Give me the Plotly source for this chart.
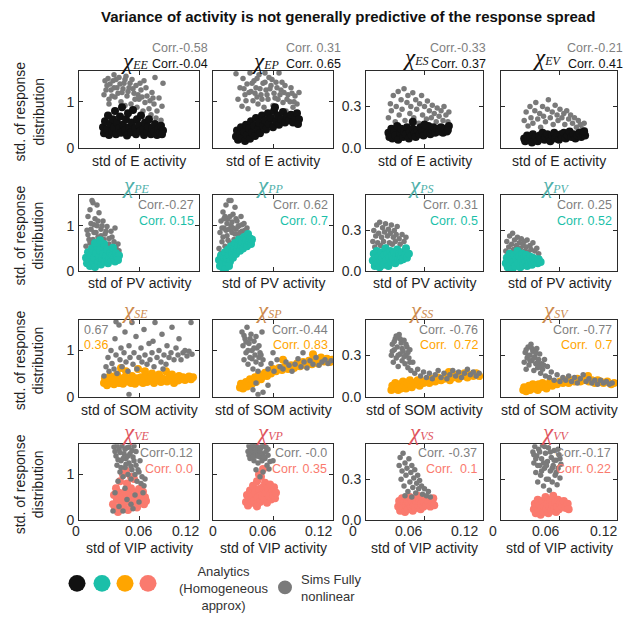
import plotly.graph_objects as go

# ---- data: (std of activity, std of response distribution) per panel ----
EE_SIM = [(0.025,1.15),(0.028,1.35),(0.030,1.05),(0.032,1.25),(0.034,1.45),(0.036,1.10),(0.038,1.30),(0.040,1.52),(0.042,1.00),(0.043,1.20),(0.045,1.40),(0.047,1.55),(0.048,1.12),(0.050,1.30),(0.052,0.95),(0.053,1.48),(0.055,1.18),(0.057,1.35),(0.058,0.88),(0.060,1.05),(0.062,1.25),(0.064,0.80),(0.065,1.45),(0.066,0.98),(0.068,1.12),(0.070,0.85),(0.072,0.72),(0.073,1.20),(0.075,0.95),(0.077,0.65),(0.078,0.80),(0.080,1.08),(0.082,0.60),(0.083,0.90),(0.084,1.40),(0.076,1.52),(0.030,0.95),(0.035,1.58),(0.026,1.45),(0.046,0.92),
          (0.027,1.25),(0.029,1.50),(0.031,1.38),(0.033,1.12),(0.035,1.30),(0.037,1.48),(0.039,1.18),(0.041,1.38),(0.044,1.28),(0.046,1.48),(0.049,1.22),(0.051,1.40),(0.054,1.28),(0.056,1.05),(0.059,1.15),(0.061,1.40),(0.063,1.10),(0.067,1.30),(0.071,1.02),(0.074,1.08)]
EE_ANA = [(0.024,0.45),(0.025,0.32),(0.026,0.58),(0.028,0.40),(0.029,0.70),(0.030,0.28),(0.031,0.52),(0.033,0.36),(0.034,0.62),(0.035,0.45),(0.036,0.80),(0.037,0.30),(0.038,0.55),(0.040,0.42),(0.041,0.68),(0.042,0.33),(0.043,0.88),(0.044,0.50),(0.046,0.38),(0.047,0.62),(0.048,0.27),(0.049,0.75),(0.050,0.45),(0.052,0.34),(0.053,0.55),(0.054,0.82),(0.056,0.42),(0.057,0.30),(0.058,0.62),(0.060,0.48),(0.061,0.36),(0.062,0.70),(0.064,0.40),(0.065,0.28),(0.066,0.55),(0.068,0.35),(0.069,0.46),(0.070,0.62),(0.072,0.30),(0.073,0.42),(0.075,0.35),(0.076,0.52),(0.078,0.28),(0.079,0.40),(0.081,0.33),(0.082,0.48),(0.084,0.38),(0.083,0.30)]

EP_SIM = [(0.023,1.60),(0.025,1.05),(0.027,1.30),(0.029,0.90),(0.030,1.50),(0.032,1.15),(0.034,1.38),(0.035,0.85),(0.037,1.62),(0.038,1.22),(0.040,1.02),(0.041,1.45),(0.043,1.30),(0.045,0.95),(0.046,1.58),(0.048,1.15),(0.050,1.40),(0.051,0.88),(0.053,1.25),(0.055,1.05),(0.056,1.52),(0.058,1.35),(0.060,0.92),(0.061,1.18),(0.063,1.42),(0.065,1.05),(0.066,1.62),(0.068,1.25),(0.070,0.98),(0.072,1.35),(0.073,0.80),(0.075,1.15),(0.077,1.00),(0.078,1.30),(0.080,0.88),(0.082,1.12),(0.084,0.95),(0.086,1.20),(0.052,1.62),(0.044,1.10),
          (0.031,1.28),(0.033,1.02),(0.036,1.20),(0.039,1.40),(0.042,1.18),(0.044,1.50),(0.047,1.28),(0.049,1.05),(0.052,1.42),(0.054,1.15),(0.057,1.28),(0.059,1.48),(0.062,1.08),(0.064,1.30),(0.067,1.15),(0.069,1.42),(0.071,1.20),(0.074,1.05),(0.079,1.18),(0.081,1.00)]
EP_ANA = [(0.023,0.25),(0.024,0.38),(0.025,0.18),(0.027,0.30),(0.028,0.45),(0.029,0.22),(0.031,0.35),(0.032,0.15),(0.033,0.50),(0.034,0.28),(0.036,0.42),(0.037,0.20),(0.038,0.58),(0.039,0.33),(0.041,0.48),(0.042,0.26),(0.043,0.65),(0.045,0.40),(0.046,0.55),(0.047,0.32),(0.049,0.70),(0.050,0.48),(0.052,0.60),(0.053,0.40),(0.055,0.75),(0.056,0.52),(0.058,0.65),(0.060,0.45),(0.061,0.80),(0.063,0.58),(0.065,0.70),(0.066,0.50),(0.068,0.62),(0.070,0.78),(0.072,0.55),(0.074,0.68),(0.076,0.60),(0.078,0.72),(0.080,0.55),(0.082,0.65),(0.084,0.75),(0.086,0.62),(0.085,0.52),(0.062,0.88)]

ES_SIM = [(0.023,0.22),(0.025,0.32),(0.026,0.27),(0.028,0.38),(0.030,0.19),(0.031,0.30),(0.033,0.41),(0.034,0.24),(0.036,0.35),(0.037,0.28),(0.039,0.43),(0.040,0.20),(0.042,0.33),(0.043,0.38),(0.045,0.25),(0.046,0.30),(0.048,0.40),(0.049,0.22),(0.051,0.35),(0.052,0.28),(0.054,0.18),(0.055,0.32),(0.057,0.38),(0.058,0.24),(0.060,0.30),(0.062,0.21),(0.063,0.34),(0.065,0.27),(0.067,0.22),(0.068,0.31),(0.070,0.25),(0.072,0.19),(0.073,0.29),(0.075,0.23),(0.077,0.27),(0.079,0.20),(0.080,0.30),(0.082,0.24),(0.084,0.19),(0.085,0.26)]
ES_ANA = [(0.023,0.11),(0.024,0.08),(0.026,0.14),(0.027,0.07),(0.029,0.12),(0.030,0.09),(0.032,0.16),(0.033,0.06),(0.035,0.11),(0.036,0.14),(0.038,0.08),(0.039,0.12),(0.041,0.10),(0.042,0.15),(0.044,0.07),(0.045,0.12),(0.047,0.09),(0.048,0.14),(0.050,0.11),(0.051,0.08),(0.053,0.13),(0.055,0.10),(0.056,0.15),(0.058,0.12),(0.059,0.09),(0.061,0.14),(0.063,0.11),(0.064,0.16),(0.066,0.10),(0.068,0.13),(0.069,0.15),(0.071,0.11),(0.073,0.14),(0.075,0.12),(0.077,0.15),(0.079,0.11),(0.081,0.14),(0.083,0.12),(0.085,0.16),(0.084,0.13),(0.048,0.19),(0.060,0.17)]

EV_SIM = [(0.024,0.20),(0.026,0.26),(0.028,0.16),(0.030,0.30),(0.031,0.22),(0.033,0.18),(0.035,0.27),(0.036,0.33),(0.038,0.21),(0.040,0.25),(0.041,0.15),(0.043,0.30),(0.044,0.23),(0.046,0.19),(0.048,0.28),(0.049,0.35),(0.051,0.22),(0.053,0.26),(0.054,0.17),(0.056,0.31),(0.058,0.24),(0.059,0.20),(0.061,0.28),(0.063,0.22),(0.065,0.25),(0.066,0.17),(0.068,0.27),(0.070,0.21),(0.072,0.24),(0.074,0.18),(0.076,0.22),(0.078,0.15),(0.080,0.20),(0.082,0.17),(0.084,0.14),(0.086,0.18),(0.087,0.13)]
EV_ANA = [(0.024,0.07),(0.025,0.05),(0.027,0.09),(0.028,0.06),(0.030,0.08),(0.032,0.04),(0.033,0.10),(0.035,0.06),(0.036,0.08),(0.038,0.05),(0.040,0.09),(0.041,0.07),(0.043,0.11),(0.045,0.06),(0.046,0.08),(0.048,0.10),(0.050,0.07),(0.051,0.05),(0.053,0.09),(0.055,0.11),(0.056,0.07),(0.058,0.09),(0.060,0.06),(0.062,0.10),(0.063,0.08),(0.065,0.11),(0.067,0.07),(0.069,0.09),(0.071,0.12),(0.073,0.08),(0.075,0.10),(0.077,0.07),(0.079,0.09),(0.081,0.11),(0.083,0.08),(0.085,0.10),(0.087,0.09),(0.086,0.12)]

PE_SIM = [(0.007,0.55),(0.008,0.90),(0.009,1.20),(0.010,0.70),(0.011,1.35),(0.012,1.05),(0.013,0.60),(0.014,1.50),(0.015,0.85),(0.016,1.15),(0.017,0.45),(0.018,1.00),(0.019,0.75),(0.020,1.28),(0.021,0.55),(0.022,0.92),(0.023,0.68),(0.024,1.10),(0.025,0.48),(0.026,0.82),(0.027,0.60),(0.028,0.98),(0.029,0.40),(0.030,0.72),(0.031,0.55),(0.032,0.88),(0.034,0.45),(0.035,0.65),(0.036,0.95),(0.037,0.52),(0.039,0.60),(0.040,0.45),(0.013,1.55),(0.018,1.45),(0.010,0.35),(0.024,0.30),(0.033,0.30),
          (0.009,0.80),(0.011,0.62),(0.012,0.92),(0.014,0.70),(0.015,1.02),(0.016,0.58),(0.017,0.85),(0.019,1.10),(0.020,0.65),(0.022,0.78),(0.023,1.00),(0.025,0.70),(0.027,0.88),(0.030,0.60),(0.033,0.75)]
PE_ANA = [(0.007,0.30),(0.008,0.18),(0.009,0.42),(0.010,0.25),(0.011,0.12),(0.012,0.35),(0.013,0.50),(0.014,0.22),(0.015,0.30),(0.016,0.10),(0.017,0.40),(0.018,0.55),(0.019,0.20),(0.020,0.32),(0.021,0.45),(0.022,0.15),(0.023,0.28),(0.024,0.38),(0.025,0.60),(0.026,0.22),(0.027,0.33),(0.028,0.48),(0.029,0.18),(0.030,0.28),(0.031,0.40),(0.032,0.25),(0.033,0.35),(0.034,0.52),(0.035,0.30),(0.036,0.22),(0.037,0.40),(0.038,0.32),(0.040,0.35),(0.039,0.25),(0.016,0.62),(0.021,0.68)]

PP_SIM = [(0.006,0.50),(0.007,0.85),(0.008,1.10),(0.009,0.65),(0.010,1.30),(0.011,0.95),(0.012,0.55),(0.013,1.45),(0.014,0.78),(0.015,1.15),(0.016,1.55),(0.017,0.62),(0.018,1.00),(0.019,0.85),(0.020,1.25),(0.021,0.70),(0.022,1.40),(0.023,0.92),(0.024,1.10),(0.025,0.80),(0.026,1.00),(0.027,0.65),(0.028,1.20),(0.029,0.88),(0.030,0.75),(0.031,1.05),(0.032,0.90),(0.033,0.70),(0.034,0.95),(0.035,0.82),(0.036,0.75),(0.018,1.55),(0.012,1.20),(0.008,0.40),
          (0.009,0.95),(0.010,0.75),(0.011,1.15),(0.013,0.90),(0.014,1.05),(0.015,0.68),(0.016,0.92),(0.017,1.20),(0.019,1.08),(0.020,0.95),(0.022,0.82),(0.023,1.15),(0.025,0.98),(0.027,0.85),(0.029,1.02)]
PP_ANA = [(0.006,0.25),(0.007,0.12),(0.008,0.35),(0.009,0.20),(0.010,0.08),(0.011,0.30),(0.012,0.42),(0.013,0.18),(0.014,0.28),(0.015,0.48),(0.016,0.35),(0.017,0.22),(0.018,0.55),(0.019,0.40),(0.020,0.30),(0.021,0.50),(0.022,0.62),(0.023,0.38),(0.024,0.48),(0.025,0.58),(0.026,0.70),(0.027,0.45),(0.028,0.55),(0.029,0.65),(0.030,0.50),(0.031,0.75),(0.032,0.60),(0.033,0.68),(0.034,0.55),(0.035,0.82),(0.036,0.65),(0.037,0.72),(0.038,0.60),(0.039,0.70),(0.012,0.05),(0.016,0.12)]

PS_SIM = [(0.007,0.22),(0.008,0.30),(0.009,0.18),(0.010,0.26),(0.011,0.34),(0.012,0.21),(0.013,0.28),(0.014,0.36),(0.015,0.19),(0.016,0.25),(0.017,0.32),(0.018,0.22),(0.019,0.29),(0.020,0.35),(0.021,0.18),(0.022,0.26),(0.023,0.31),(0.024,0.21),(0.025,0.28),(0.026,0.34),(0.027,0.20),(0.028,0.25),(0.029,0.30),(0.030,0.22),(0.031,0.27),(0.032,0.33),(0.034,0.24),(0.035,0.20),(0.037,0.27),(0.039,0.22),(0.041,0.25)]
PS_ANA = [(0.007,0.08),(0.008,0.13),(0.009,0.04),(0.010,0.10),(0.011,0.15),(0.012,0.06),(0.013,0.11),(0.014,0.03),(0.015,0.08),(0.016,0.14),(0.017,0.10),(0.018,0.05),(0.019,0.12),(0.020,0.17),(0.021,0.08),(0.022,0.13),(0.023,0.04),(0.024,0.10),(0.025,0.15),(0.026,0.07),(0.027,0.12),(0.028,0.09),(0.029,0.14),(0.030,0.06),(0.031,0.11),(0.032,0.16),(0.033,0.09),(0.034,0.13),(0.035,0.08),(0.036,0.11),(0.037,0.14),(0.038,0.09),(0.040,0.12),(0.042,0.10),(0.044,0.13),(0.041,0.17)]

PV_SIM = [(0.005,0.15),(0.006,0.22),(0.007,0.12),(0.008,0.18),(0.009,0.26),(0.010,0.14),(0.011,0.20),(0.012,0.28),(0.013,0.16),(0.014,0.23),(0.015,0.13),(0.016,0.19),(0.017,0.25),(0.018,0.15),(0.019,0.21),(0.020,0.17),(0.021,0.24),(0.022,0.13),(0.023,0.19),(0.024,0.22),(0.025,0.15),(0.026,0.18),(0.027,0.23),(0.028,0.14),(0.030,0.19),(0.031,0.16),(0.033,0.21),(0.035,0.15),(0.037,0.17),(0.039,0.13)]
PV_ANA = [(0.005,0.06),(0.006,0.10),(0.007,0.03),(0.008,0.08),(0.009,0.13),(0.010,0.05),(0.011,0.09),(0.012,0.02),(0.013,0.07),(0.014,0.12),(0.015,0.04),(0.016,0.09),(0.017,0.15),(0.018,0.06),(0.019,0.11),(0.020,0.03),(0.021,0.08),(0.022,0.13),(0.023,0.05),(0.024,0.10),(0.025,0.07),(0.026,0.12),(0.027,0.04),(0.028,0.09),(0.029,0.06),(0.030,0.11),(0.031,0.08),(0.032,0.05),(0.033,0.10),(0.035,0.07),(0.036,0.09),(0.038,0.06),(0.039,0.09),(0.041,0.07)]

SE_SIM = [(0.025,0.45),(0.027,0.65),(0.029,0.85),(0.030,0.55),(0.032,1.00),(0.033,0.72),(0.035,0.60),(0.036,1.25),(0.037,0.90),(0.038,0.50),(0.040,1.55),(0.041,0.80),(0.042,1.05),(0.043,0.65),(0.045,0.95),(0.046,1.40),(0.047,0.75),(0.049,0.55),(0.050,1.10),(0.051,0.85),(0.053,1.60),(0.054,0.70),(0.055,0.95),(0.057,1.30),(0.058,0.60),(0.060,0.85),(0.062,1.05),(0.063,0.75),(0.065,1.45),(0.066,0.90),(0.068,0.70),(0.070,1.15),(0.071,0.80),(0.073,0.95),(0.075,0.65),(0.076,1.60),(0.078,0.85),(0.080,1.00),(0.082,0.75),(0.083,1.35),(0.085,0.90),(0.087,0.70),(0.088,1.10),(0.090,0.85),(0.092,0.95),(0.093,1.50),(0.095,0.80),(0.097,1.05),(0.099,0.90),(0.100,1.25),(0.102,0.80),(0.104,0.95),(0.106,1.00),(0.108,0.88),(0.110,0.98),(0.112,1.60),(0.113,0.92),(0.050,0.05),(0.037,1.62),(0.074,1.20),(0.084,0.60)]
SE_ANA = [(0.025,0.30),(0.026,0.40),(0.028,0.25),(0.029,0.35),(0.031,0.45),(0.032,0.30),(0.034,0.38),(0.035,0.27),(0.037,0.33),(0.038,0.48),(0.040,0.30),(0.041,0.40),(0.043,0.35),(0.044,0.28),(0.046,0.42),(0.047,0.55),(0.049,0.33),(0.050,0.38),(0.052,0.30),(0.053,0.45),(0.055,0.36),(0.056,0.28),(0.058,0.40),(0.059,0.60),(0.061,0.33),(0.062,0.42),(0.064,0.30),(0.065,0.37),(0.067,0.45),(0.068,0.32),(0.070,0.40),(0.072,0.35),(0.073,0.50),(0.075,0.30),(0.077,0.42),(0.078,0.36),(0.080,0.48),(0.082,0.32),(0.083,0.40),(0.085,0.37),(0.087,0.55),(0.088,0.33),(0.090,0.42),(0.092,0.36),(0.093,0.48),(0.095,0.30),(0.097,0.40),(0.099,0.35),(0.100,0.45),(0.102,0.38),(0.104,0.42),(0.106,0.36),(0.108,0.40),(0.110,0.44),(0.112,0.38),(0.114,0.42),(0.042,0.62),(0.066,0.55)]

SP_SIM = [(0.029,1.40),(0.030,1.10),(0.031,0.80),(0.032,1.25),(0.033,0.95),(0.034,1.50),(0.035,0.70),(0.036,1.15),(0.037,0.85),(0.038,1.35),(0.039,1.00),(0.040,0.60),(0.041,1.20),(0.042,0.90),(0.043,0.75),(0.044,1.05),(0.045,0.55),(0.046,0.85),(0.047,0.95),(0.048,0.70),(0.049,1.40),(0.050,0.80),(0.040,0.15),(0.045,0.05),(0.050,0.10),(0.055,0.25),(0.043,0.30),(0.055,0.60),(0.058,0.72),(0.061,0.55),(0.064,0.80),(0.067,0.65),(0.070,0.60),(0.073,0.75),(0.076,0.68),(0.079,0.55),(0.082,0.70),(0.085,0.82),(0.088,0.65),(0.091,0.75),(0.094,0.62),(0.097,0.78),(0.100,0.70),(0.103,0.85),(0.106,0.68),(0.109,0.75),(0.112,0.80),(0.115,0.72),(0.118,0.78),(0.060,0.95),(0.090,0.95),
          (0.031,1.32),(0.033,1.18),(0.035,1.00),(0.037,1.25),(0.039,0.82),(0.041,1.05),(0.043,1.30),(0.046,1.10),(0.048,0.90)]
SP_ANA = [(0.027,0.20),(0.028,0.28),(0.030,0.18),(0.031,0.25),(0.033,0.32),(0.034,0.22),(0.036,0.30),(0.037,0.38),(0.039,0.28),(0.040,0.35),(0.042,0.42),(0.043,0.32),(0.045,0.40),(0.046,0.48),(0.048,0.38),(0.050,0.45),(0.052,0.52),(0.054,0.45),(0.056,0.55),(0.058,0.50),(0.060,0.60),(0.063,0.55),(0.066,0.62),(0.069,0.58),(0.072,0.65),(0.075,0.60),(0.078,0.68),(0.081,0.62),(0.084,0.72),(0.087,0.66),(0.090,0.75),(0.093,0.68),(0.096,0.78),(0.099,0.70),(0.102,0.80),(0.105,0.72),(0.108,0.85),(0.111,0.76),(0.114,0.82),(0.117,0.75),(0.119,0.80),(0.100,0.92),(0.070,0.80)]

SS_SIM = [(0.026,0.30),(0.027,0.38),(0.028,0.25),(0.029,0.34),(0.030,0.42),(0.031,0.28),(0.032,0.36),(0.033,0.22),(0.034,0.45),(0.035,0.31),(0.036,0.39),(0.037,0.26),(0.038,0.33),(0.039,0.41),(0.040,0.24),(0.041,0.30),(0.042,0.36),(0.043,0.21),(0.044,0.28),(0.045,0.34),(0.046,0.19),(0.048,0.25),(0.050,0.17),(0.053,0.20),(0.056,0.15),(0.059,0.18),(0.062,0.14),(0.065,0.17),(0.068,0.13),(0.071,0.16),(0.074,0.19),(0.077,0.14),(0.080,0.17),(0.083,0.13),(0.086,0.16),(0.089,0.19),(0.092,0.15),(0.095,0.18),(0.098,0.14),(0.101,0.17),(0.104,0.20),(0.107,0.16),(0.110,0.18),(0.113,0.15),(0.116,0.17),
          (0.027,0.33),(0.029,0.40),(0.031,0.44),(0.033,0.30),(0.035,0.42),(0.037,0.35),(0.039,0.29),(0.041,0.38),(0.043,0.32),(0.045,0.25)]
SS_ANA = [(0.026,0.05),(0.027,0.08),(0.029,0.06),(0.030,0.10),(0.032,0.07),(0.033,0.05),(0.035,0.09),(0.036,0.06),(0.038,0.11),(0.039,0.08),(0.041,0.06),(0.042,0.10),(0.044,0.08),(0.045,0.12),(0.047,0.07),(0.049,0.10),(0.051,0.09),(0.053,0.12),(0.055,0.08),(0.057,0.11),(0.059,0.10),(0.062,0.12),(0.065,0.10),(0.068,0.13),(0.071,0.11),(0.074,0.14),(0.077,0.12),(0.080,0.13),(0.083,0.15),(0.086,0.12),(0.089,0.14),(0.092,0.16),(0.095,0.13),(0.098,0.15),(0.101,0.17),(0.104,0.14),(0.107,0.16),(0.110,0.15),(0.113,0.17),(0.116,0.15),(0.085,0.18)]

SV_SIM = [(0.024,0.25),(0.025,0.32),(0.026,0.20),(0.027,0.28),(0.028,0.36),(0.029,0.23),(0.030,0.30),(0.031,0.38),(0.032,0.26),(0.033,0.33),(0.034,0.19),(0.035,0.29),(0.036,0.24),(0.037,0.35),(0.038,0.21),(0.039,0.27),(0.040,0.31),(0.041,0.17),(0.042,0.24),(0.043,0.20),(0.045,0.27),(0.046,0.15),(0.048,0.22),(0.050,0.14),(0.052,0.18),(0.055,0.12),(0.058,0.16),(0.061,0.11),(0.064,0.14),(0.067,0.12),(0.070,0.15),(0.073,0.11),(0.076,0.14),(0.079,0.10),(0.082,0.13),(0.085,0.16),(0.088,0.11),(0.091,0.13),(0.094,0.10),(0.097,0.12),(0.100,0.09),(0.103,0.12),(0.106,0.10),(0.109,0.11),(0.112,0.09),(0.115,0.10),
          (0.026,0.34),(0.028,0.30),(0.030,0.26),(0.032,0.35),(0.034,0.28),(0.036,0.32),(0.038,0.25),(0.040,0.22),(0.044,0.23)]
SV_ANA = [(0.023,0.05),(0.024,0.07),(0.026,0.04),(0.027,0.06),(0.029,0.08),(0.030,0.05),(0.032,0.07),(0.033,0.09),(0.035,0.06),(0.036,0.08),(0.038,0.05),(0.039,0.09),(0.041,0.07),(0.043,0.10),(0.045,0.08),(0.047,0.06),(0.049,0.09),(0.051,0.11),(0.053,0.08),(0.055,0.10),(0.058,0.09),(0.061,0.11),(0.064,0.10),(0.067,0.12),(0.070,0.10),(0.073,0.12),(0.076,0.11),(0.079,0.13),(0.082,0.11),(0.085,0.12),(0.088,0.14),(0.091,0.11),(0.094,0.12),(0.097,0.10),(0.100,0.12),(0.103,0.11),(0.106,0.10),(0.110,0.11),(0.114,0.09),(0.117,0.10),(0.090,0.15)]

VE_SIM = [(0.035,1.60),(0.037,1.40),(0.038,1.20),(0.040,1.55),(0.041,1.05),(0.042,1.30),(0.043,1.62),(0.044,0.95),(0.045,1.45),(0.046,1.15),(0.047,1.35),(0.048,1.58),(0.049,1.00),(0.050,1.25),(0.051,1.45),(0.052,0.90),(0.053,1.10),(0.054,1.38),(0.055,1.62),(0.056,1.00),(0.057,1.20),(0.058,0.85),(0.060,1.05),(0.061,1.30),(0.062,0.80),(0.063,0.95),(0.065,0.75),(0.066,0.90),(0.039,0.85),(0.036,0.60),(0.040,0.30),(0.044,0.20),(0.048,0.45),(0.052,0.35),(0.056,0.55),(0.060,0.40),(0.064,0.60),(0.046,0.70),(0.034,0.20),(0.054,0.25),
          (0.036,1.50),(0.038,1.62),(0.039,1.32),(0.041,1.48),(0.042,1.15),(0.044,1.35),(0.046,1.55),(0.047,1.22),(0.049,1.40),(0.050,1.60),(0.052,1.18),(0.053,1.52),(0.055,1.30),(0.057,1.50),(0.059,1.10)]
VE_ANA = [(0.034,0.35),(0.035,0.55),(0.036,0.25),(0.037,0.70),(0.038,0.45),(0.039,0.18),(0.040,0.60),(0.041,0.85),(0.042,0.38),(0.043,0.50),(0.044,1.00),(0.045,0.30),(0.046,0.62),(0.047,0.45),(0.048,0.80),(0.049,0.22),(0.050,0.55),(0.051,0.40),(0.052,0.70),(0.053,0.32),(0.054,0.50),(0.055,0.90),(0.056,0.42),(0.057,0.60),(0.058,0.28),(0.059,0.48),(0.060,0.68),(0.061,0.38),(0.062,0.55),(0.063,0.45),(0.064,0.62),(0.065,0.35),(0.066,0.50),(0.067,0.42),(0.047,1.08),(0.052,0.95)]

VP_SIM = [(0.035,1.50),(0.036,1.62),(0.037,1.35),(0.038,1.55),(0.039,1.45),(0.040,1.63),(0.041,1.30),(0.042,1.50),(0.043,1.40),(0.044,1.60),(0.045,1.25),(0.046,1.48),(0.047,1.38),(0.048,1.58),(0.049,1.30),(0.050,1.45),(0.051,1.62),(0.052,1.35),(0.053,1.50),(0.054,1.20),(0.055,1.42),(0.057,1.28),(0.043,1.10),(0.050,1.05),(0.056,1.12),(0.060,1.30),(0.047,0.95),
          (0.036,1.42),(0.037,1.55),(0.039,1.60),(0.040,1.38),(0.042,1.62),(0.043,1.52),(0.045,1.40),(0.047,1.52),(0.049,1.62),(0.051,1.38),(0.053,1.60),(0.055,1.55)]
VP_ANA = [(0.033,0.40),(0.034,0.55),(0.035,0.32),(0.036,0.48),(0.037,0.65),(0.038,0.38),(0.039,0.52),(0.040,0.75),(0.041,0.42),(0.042,0.60),(0.043,0.35),(0.044,0.85),(0.045,0.50),(0.046,0.68),(0.047,0.40),(0.048,0.95),(0.049,0.55),(0.050,0.72),(0.051,0.45),(0.052,0.82),(0.053,0.60),(0.054,0.38),(0.055,0.70),(0.056,0.52),(0.057,0.78),(0.058,0.45),(0.059,0.62),(0.060,0.55),(0.061,0.72),(0.062,0.48),(0.063,0.60),(0.046,1.00),(0.050,1.12),(0.044,0.30)]

VS_SIM = [(0.034,0.40),(0.035,0.46),(0.036,0.30),(0.037,0.36),(0.038,0.49),(0.039,0.25),(0.040,0.42),(0.041,0.33),(0.042,0.38),(0.043,0.21),(0.044,0.45),(0.045,0.28),(0.046,0.35),(0.047,0.40),(0.048,0.24),(0.049,0.31),(0.050,0.37),(0.051,0.20),(0.052,0.27),(0.053,0.33),(0.054,0.23),(0.055,0.29),(0.057,0.25),(0.058,0.19),(0.060,0.23),(0.062,0.18),(0.064,0.21),(0.066,0.17),(0.040,0.18),(0.047,0.17)]
VS_ANA = [(0.033,0.10),(0.034,0.14),(0.035,0.07),(0.036,0.12),(0.037,0.16),(0.038,0.09),(0.039,0.13),(0.040,0.06),(0.041,0.11),(0.042,0.15),(0.043,0.08),(0.044,0.12),(0.045,0.17),(0.046,0.10),(0.047,0.14),(0.048,0.07),(0.049,0.11),(0.050,0.15),(0.051,0.09),(0.052,0.13),(0.053,0.18),(0.054,0.10),(0.055,0.14),(0.056,0.08),(0.057,0.12),(0.058,0.16),(0.059,0.10),(0.060,0.13),(0.062,0.11),(0.064,0.14),(0.066,0.10),(0.068,0.13),(0.069,0.16),(0.070,0.11)]

VV_SIM = [(0.033,0.50),(0.034,0.42),(0.035,0.54),(0.036,0.35),(0.037,0.47),(0.038,0.28),(0.039,0.52),(0.040,0.40),(0.041,0.33),(0.042,0.45),(0.043,0.55),(0.044,0.25),(0.045,0.38),(0.046,0.49),(0.047,0.30),(0.048,0.43),(0.049,0.53),(0.050,0.22),(0.051,0.36),(0.052,0.46),(0.053,0.28),(0.054,0.40),(0.055,0.51),(0.056,0.33),(0.057,0.44),(0.058,0.26),(0.059,0.38),(0.060,0.48),(0.061,0.31),(0.062,0.41),
          (0.034,0.48),(0.036,0.45),(0.038,0.40),(0.040,0.50),(0.042,0.36),(0.044,0.42),(0.045,0.54),(0.047,0.40),(0.049,0.30),(0.051,0.50),(0.053,0.38),(0.055,0.44),(0.057,0.35),(0.059,0.52),(0.061,0.45)]
VV_ANA = [(0.034,0.08),(0.035,0.12),(0.036,0.05),(0.037,0.10),(0.038,0.15),(0.039,0.07),(0.040,0.11),(0.041,0.04),(0.042,0.09),(0.043,0.14),(0.044,0.06),(0.045,0.10),(0.046,0.17),(0.047,0.08),(0.048,0.12),(0.049,0.05),(0.050,0.10),(0.051,0.15),(0.052,0.07),(0.053,0.11),(0.054,0.18),(0.055,0.09),(0.056,0.13),(0.057,0.06),(0.058,0.10),(0.059,0.15),(0.060,0.08),(0.061,0.12),(0.063,0.10),(0.065,0.14),(0.067,0.09),(0.069,0.12),(0.070,0.08)]

PANEL_KEYS = ["EE", "EP", "ES", "EV",
              "PE", "PP", "PS", "PV",
              "SE", "SP", "SS", "SV",
              "VE", "VP", "VS", "VV"]
SIM_DATA = [EE_SIM, EP_SIM, ES_SIM, EV_SIM, PE_SIM, PP_SIM, PS_SIM, PV_SIM,
            SE_SIM, SP_SIM, SS_SIM, SV_SIM, VE_SIM, VP_SIM, VS_SIM, VV_SIM]
ANA_DATA = [EE_ANA, EP_ANA, ES_ANA, EV_ANA, PE_ANA, PP_ANA, PS_ANA, PV_ANA,
            SE_ANA, SP_ANA, SS_ANA, SV_ANA, VE_ANA, VP_ANA, VS_ANA, VV_ANA]

SIM_CORR = ["Corr.-0.58", "Corr. 0.31", "Corr.-0.33", "Corr.-0.21",
            "Corr.-0.27", "Corr. 0.62", "Corr. 0.31", "Corr. 0.25",
            "0.67", "Corr.-0.44", "Corr. -0.76", "Corr. -0.77",
            "Corr-0.12", "Corr. -0.0", "Corr. -0.37", "Corr.-0.17"]
ANA_CORR = ["Corr.-0.04", "Corr. 0.65", "Corr. 0.37", "Corr. 0.41",
            "Corr. 0.15", "Corr. 0.7", "Corr. 0.5", "Corr. 0.52",
            "0.36", "Corr. 0.83", "Corr.  0.72", "Corr.  0.7",
            "Corr. 0.0", "Corr. 0.35", "Corr.  0.1", "Corr. 0.22"]

ROW_POP = ["E", "PV", "SOM", "VIP"]
X_TICKS = [0, 0.06, 0.12]
X_TICKTEXT = ["0", "0.06", "0.12"]
Y_TICKS_WIDE = [0, 1]
Y_TICKS_NARROW = [0, 0.3]
Y_TICKTEXT_NARROW = ["0.0", "0.3"]

# ---- styling ----
W, H = 626, 620
ANA_COLORS = ["#111111", "#1bbfa9", "#ffa500", "#fa7a6e"]
TITLE_COLORS = ["#111111", "#4fb0aa", "#cc8a4e", "#e0545e"]
SIM_COLOR = "#7a7a7a"
AX_COLOR = "#2b2b2b"
SANS = "Liberation Sans, Arial, Helvetica, sans-serif"
SERIF = "Liberation Serif, Times New Roman, serif"

COL_PX = [(79, 199), (213, 333), (366, 483), (501, 617)]
ROW_PX = [(72, 150), (198, 275), (324, 402), (450, 527)]
# horizontal placement of the bottom-row tick labels (0, 0.06, 0.12), per column
XLABEL_PX = [(76, 138, 186), (213, 262, 318), (353, 408, 464), (493, 545, 603)]


def fx(p):
    return p / W


def fy(p):
    return 1 - p / H


fig = go.Figure()
annotations = []
layout_axes = {}

for i, key in enumerate(PANEL_KEYS):
    r, c = divmod(i, 4)
    n = i + 1
    xa = "x" if n == 1 else f"x{n}"
    ya = "y" if n == 1 else f"y{n}"
    sim = SIM_DATA[i]
    ana = ANA_DATA[i]
    sim_tr = go.Scatter(x=[p[0] for p in sim], y=[p[1] for p in sim], mode="markers",
                        marker=dict(size=5.5, color=SIM_COLOR), xaxis=xa, yaxis=ya,
                        showlegend=False, hoverinfo="skip")
    ana_tr = go.Scatter(x=[p[0] for p in ana], y=[p[1] for p in ana], mode="markers",
                        marker=dict(size=8, color=ANA_COLORS[r]), xaxis=xa, yaxis=ya,
                        showlegend=False, hoverinfo="skip")
    # simulations drawn on top for SOM/VIP rows, analytics on top otherwise
    if r >= 2:
        fig.add_trace(ana_tr)
        fig.add_trace(sim_tr)
    else:
        fig.add_trace(sim_tr)
        fig.add_trace(ana_tr)

    x0, x1 = COL_PX[c]
    y0, y1 = ROW_PX[r]
    narrow = c >= 2
    xname = "xaxis" if n == 1 else f"xaxis{n}"
    yname = "yaxis" if n == 1 else f"yaxis{n}"
    layout_axes[xname] = dict(
        domain=[fx(x0), fx(x1)], anchor=ya, range=[0, 0.12],
        tickvals=X_TICKS, showticklabels=False,
        ticks="inside", ticklen=4, tickcolor=AX_COLOR, showline=True,
        linecolor=AX_COLOR, linewidth=1, mirror="ticks", showgrid=False,
        zeroline=False, fixedrange=True)
    layout_axes[yname] = dict(
        domain=[fy(y1), fy(y0)], anchor=xa,
        range=[0, 0.557] if narrow else [0, 1.66],
        tickvals=Y_TICKS_NARROW if narrow else Y_TICKS_WIDE,
        ticktext=Y_TICKTEXT_NARROW if narrow else ["0", "1"],
        showticklabels=(c in (0, 2)),
        ticks="inside", ticklen=4, tickcolor=AX_COLOR, showline=True,
        linecolor=AX_COLOR, linewidth=1, mirror="ticks", showgrid=False,
        zeroline=False, tickfont=dict(family=SANS, size=14, color=AX_COLOR),
        ticklabelstandoff=1, fixedrange=True)

    # bottom-row x tick labels
    if r == 3:
        for txt, xp in zip(X_TICKTEXT, XLABEL_PX[c]):
            annotations.append(dict(
                text=txt, x=fx(xp), y=fy(538), xref="paper", yref="paper",
                xanchor="center", yanchor="middle", showarrow=False,
                font=dict(family=SANS, size=14, color=AX_COLOR)))

    # panel title (susceptibility symbol)
    cx = (x0 + x1) / 2 - 4
    ty = [58, 188, 315, 438][r]
    if r == 0 and c < 2:
        ty = 62
        cx = [134, 265][c]
    elif r == 0:
        cx = [415, 547][c - 2]
    annotations.append(dict(
        text=f"<i>χ<span style='font-size:12px'>{key}</span></i>",
        x=fx(cx), y=fy(ty), xref="paper", yref="paper",
        xanchor="center", yanchor="middle", showarrow=False,
        font=dict(family=SERIF, size=23, color=TITLE_COLORS[r])))

    # correlation labels
    if r == 0:
        xr = [210, 343, 488, 625][c]
        ys = (49, 65)
    elif r == 3:
        xr = x1 - 4
        ys = (y0 + 9, y0 + 25)
    else:
        xr = x1 - 3
        ys = (y0 + 10, y0 + 26)
    if r == 2 and c == 0:
        corr_pos = dict(x=fx(x0 + 3), xanchor="left")
    else:
        corr_pos = dict(x=fx(xr), xanchor="right")
    for txt, col, yy in ((SIM_CORR[i], "#808080", ys[0]),
                         (ANA_CORR[i], ANA_COLORS[r], ys[1])):
        annotations.append(dict(
            text=txt, y=fy(yy), xref="paper", yref="paper", yanchor="middle",
            showarrow=False, font=dict(family=SANS, size=12.5, color=col), **corr_pos))

    # x-axis title
    xt_y = [163, 287, 415, 555][r]
    annotations.append(dict(
        text=f"std of {ROW_POP[r]} activity", x=fx((x0 + x1) / 2), y=fy(xt_y),
        xref="paper", yref="paper", xanchor="center", yanchor="middle",
        showarrow=False, font=dict(family=SANS, size=14, color="#1e1e1e")))

# row y-axis titles
for r in range(4):
    y0, y1 = ROW_PX[r]
    annotations.append(dict(
        text="std. of response<br>distribution", x=fx(29), y=fy((y0 + y1) / 2 + 2),
        xref="paper", yref="paper", xanchor="center", yanchor="middle",
        textangle=-90, showarrow=False,
        font=dict(family=SANS, size=14, color="#1e1e1e")))

# main title
annotations.append(dict(
    text="<b>Variance of activity is not generally predictive of the response spread</b>",
    x=fx(348), y=fy(17), xref="paper", yref="paper", xanchor="center", yanchor="middle",
    showarrow=False, font=dict(family=SANS, size=15, color="#111111")))

# legend
shapes = []
for k, col in enumerate(ANA_COLORS):
    cxp = [77, 102, 125, 148][k]
    shapes.append(dict(type="circle", xref="paper", yref="paper",
                       x0=fx(cxp - 8.5), x1=fx(cxp + 8.5), y0=fy(591 + 8.5), y1=fy(591 - 8.5),
                       fillcolor=col, line=dict(width=0)))
shapes.append(dict(type="circle", xref="paper", yref="paper",
                   x0=fx(285 - 7), x1=fx(285 + 7), y0=fy(595 + 7), y1=fy(595 - 7),
                   fillcolor=SIM_COLOR, line=dict(width=0)))
annotations.append(dict(
    text="Analytics<br>(Homogeneous<br>approx)", x=fx(223), y=fy(596), xref="paper",
    yref="paper", xanchor="center", yanchor="middle", showarrow=False, align="center",
    font=dict(family=SANS, size=13, color="#333333")))
annotations.append(dict(
    text="Sims Fully<br>nonlinear", x=fx(299), y=fy(596), xref="paper", yref="paper",
    xanchor="left", yanchor="middle", showarrow=False, align="left",
    font=dict(family=SANS, size=13, color="#333333")))

fig.update_layout(
    width=W, height=H, margin=dict(l=0, r=0, t=0, b=0),
    paper_bgcolor="white", plot_bgcolor="white",
    annotations=annotations, shapes=shapes, showlegend=False,
    **layout_axes)

fig.write_html("out.html", config={"displayModeBar": False})
